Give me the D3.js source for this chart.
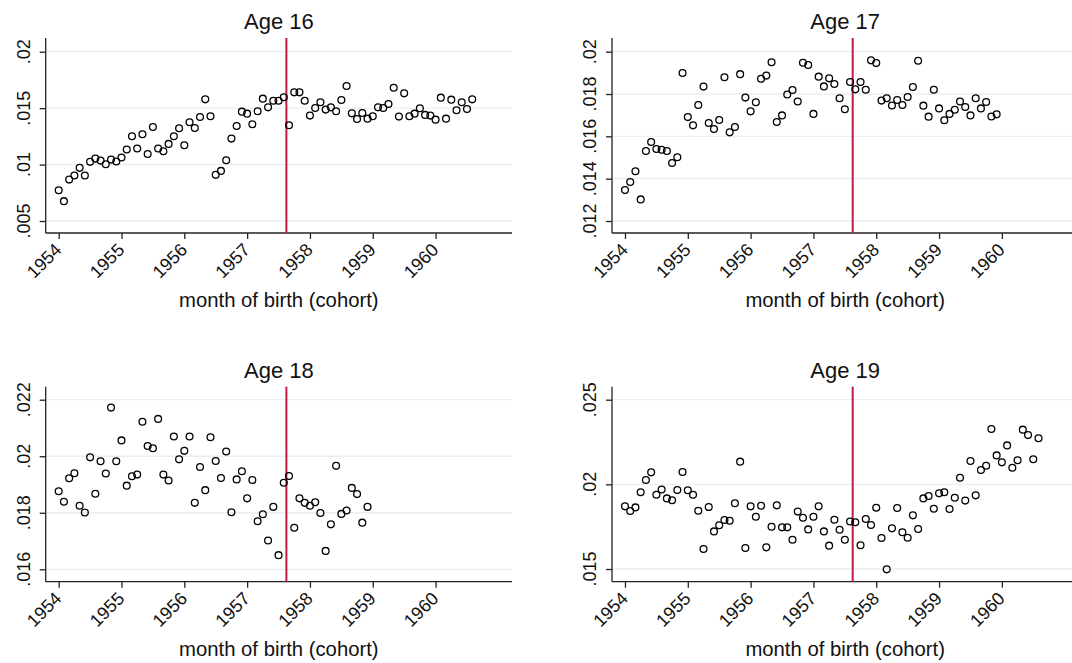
<!DOCTYPE html>
<html>
<head>
<meta charset="utf-8">
<script src="https://cdn.jsdelivr.net/npm/d3@7"></script>
<style>
  html, body { margin: 0; padding: 0; background: #fff; overflow: hidden; }
  svg { display: block; }
  text { font-family: "Liberation Sans", Arial, Helvetica, sans-serif; fill: #111; }
</style>
</head>
<body>
<svg id="chart" width="1072" height="663"></svg>
<script>
// Monthly cohort series, first value = January 1954, one value per month.
const age16 = [
  .00773, .00676, .00867, .00903, .00971, .00903, .01024, .01053, .01035, .01003, .01044, .01027,
  .01062, .01133, .01251, .01142, .01268, .01094, .01333, .01142, .01118, .01183, .01251, .01322,
  .01171, .01375, .01324, .01422, .01578, .01428, .00909, .00944, .01038, .01230, .01342, .01469,
  .01451, .01357, .01472, .01584, .01507, .01566, .01566, .01596, .01348, .01640, .01640, .01566,
  .01434, .01501, .01552, .01487, .01507, .01472, .01572, .01696, .01454, .01404, .01457, .01407,
  .01428, .01507, .01501, .01537, .01681, .01425, .01631, .01428, .01451, .01499, .01440, .01434,
  .01398, .01593, .01407, .01575, .01481, .01552, .01493, .01578
];
const age17 = [
  .01346, .01384, .01435, .01302, .01531, .01573, .01540, .01537, .01531, .01474, .01501, .01899,
  .01691, .01652, .01748, .01835, .01663, .01635, .01677, .01879, .01619, .01644, .01894, .01783,
  .01718, .01761, .01872, .01887, .01950, .01668, .01699, .01798, .01819, .01765, .01948, .01937,
  .01706, .01882, .01836, .01874, .01847, .01780, .01728, .01857, .01822, .01857, .01820, .01959,
  .01946, .01769, .01780, .01746, .01772, .01748, .01786, .01833, .01957, .01745, .01693, .01820,
  .01732, .01676, .01706, .01726, .01765, .01739, .01699, .01780, .01732, .01762, .01694, .01704
];
const age18 = [
  .01876, .01839, .01922, .01940, .01825, .01801, .01996, .01867, .01982, .01939, .02172, .01982,
  .02056, .01896, .01929, .01935, .02122, .02036, .02028, .02132, .01935, .01914, .02070, .01989,
  .02019, .02070, .01835, .01962, .01880, .02067, .01983, .01923, .02017, .01802, .01918, .01947,
  .01851, .01916, .01770, .01795, .01702, .01821, .01650, .01906, .01930, .01747, .01851, .01835,
  .01825, .01837, .01799, .01665, .01759, .01966, .01796, .01808, .01888, .01866, .01765, .01821
];
const age19 = [
  .01870, .01843, .01864, .01953, .02026, .02071, .01939, .01970, .01917, .01906, .01967, .02073,
  .01965, .01939, .01844, .01618, .01866, .01722, .01758, .01789, .01785, .01888, .02134, .01624,
  .01870, .01809, .01874, .01628, .01750, .01876, .01746, .01746, .01673, .01839, .01803, .01734,
  .01809, .01870, .01722, .01638, .01791, .01732, .01673, .01781, .01776, .01640, .01795, .01760,
  .01862, .01683, .01498, .01740, .01860, .01717, .01685, .01817, .01736, .01917, .01931, .01856,
  .01947, .01953, .01854, .01921, .02039, .01904, .02138, .01935, .02085, .02110, .02327, .02171,
  .02130, .02230, .02098, .02142, .02323, .02291, .02148, .02272
];

const panelTitles = ["Age 16", "Age 17", "Age 18", "Age 19"];
const yearTicks = [1954, 1955, 1956, 1957, 1958, 1959, 1960];
const yTicks16 = [.005, .01, .015, .02];
const yTicks17 = [.012, .014, .016, .018, .02];
const yTicks18 = [.016, .018, .02, .022];
const yTicks19 = [.015, .02, .025];
const firstYear = 1954;
// Reform cutoff, in months since January 1954 (between Aug and Sep 1957)
const cutoffMonth = 43.5;
const xAxisTitle = "month of birth (cohort)";

const panels = [
  { title: panelTitles[0], values: age16, ticks: yTicks16, yDomain: [.003937, .021214], left: 45.7, top: 38 },
  { title: panelTitles[1], values: age17, ticks: yTicks17, yDomain: [.011433, .020647], left: 612, top: 38 },
  { title: panelTitles[2], values: age18, ticks: yTicks18, yDomain: [.015561, .02246], left: 45.7, top: 386.7 },
  { title: panelTitles[3], values: age19, ticks: yTicks19, yDomain: [.01425, .025768], left: 612, top: 386.7 }
];

const W = 466.3, H = 195;
const svg = d3.select("#chart");
svg.append("rect").attr("width", 1072).attr("height", 663).attr("fill", "#fff");

const fmt = v => String(+v.toFixed(3)).replace(/^0\./, ".");

panels.forEach(p => {
  const g = svg.append("g").attr("transform", `translate(${p.left},${p.top})`);
  const x = d3.scaleLinear().domain([-2.48, 86.6]).range([0, W]);
  const y = d3.scaleLinear().domain(p.yDomain).range([H, 0]);

  // horizontal gridlines
  g.selectAll("line.grid").data(p.ticks).join("line")
    .attr("class", "grid")
    .attr("x1", 0).attr("x2", W)
    .attr("y1", d => y(d)).attr("y2", d => y(d))
    .attr("stroke", "#e8eff2").attr("stroke-width", 1.3);

  // y axis
  const yAxis = d3.axisLeft(y).tickValues(p.ticks).tickSize(6).tickFormat("");
  const ya = g.append("g").call(yAxis);
  ya.select(".domain").attr("d", `M0,0V${H}`).attr("stroke", "#222").attr("stroke-width", 1.3);
  ya.selectAll(".tick line").attr("stroke", "#222").attr("stroke-width", 1.3);
  g.selectAll("text.ylab").data(p.ticks).join("text")
    .attr("class", "ylab")
    .attr("transform", d => `translate(-16,${y(d)}) rotate(-90)`)
    .attr("text-anchor", "middle")
    .attr("font-size", 18)
    .text(d => fmt(d));

  // x axis
  const monthTicks = yearTicks.map(yr => (yr - firstYear) * 12);
  const xAxis = d3.axisBottom(x).tickValues(monthTicks).tickSize(6).tickFormat("");
  const xa = g.append("g").attr("transform", `translate(0,${H})`).call(xAxis);
  xa.select(".domain").attr("d", `M0,0H${W}`).attr("stroke", "#222").attr("stroke-width", 1.3);
  xa.selectAll(".tick line").attr("stroke", "#222").attr("stroke-width", 1.3);
  g.selectAll("text.xlab").data(yearTicks).join("text")
    .attr("class", "xlab")
    .attr("transform", d => `translate(${x((d - firstYear) * 12) + 4},${H + 18}) rotate(-45)`)
    .attr("text-anchor", "end")
    .attr("font-size", 18)
    .text(d => d);

  // cutoff line
  g.append("line")
    .attr("x1", x(cutoffMonth)).attr("x2", x(cutoffMonth))
    .attr("y1", 0).attr("y2", H)
    .attr("stroke", "#c41a40").attr("stroke-width", 2);

  // hollow circle markers
  g.selectAll("circle").data(p.values).join("circle")
    .attr("cx", (d, i) => x(i))
    .attr("cy", d => y(d))
    .attr("r", 3.4)
    .attr("fill", "none")
    .attr("stroke", "#000")
    .attr("stroke-width", 1.3);

  // panel title
  g.append("text")
    .attr("x", W / 2).attr("y", -9)
    .attr("text-anchor", "middle")
    .attr("font-size", 22)
    .text(p.title);

  // x axis title
  g.append("text")
    .attr("x", W / 2).attr("y", H + 74)
    .attr("text-anchor", "middle")
    .attr("font-size", 20.3)
    .text(xAxisTitle);
});
</script>
</body>
</html>
